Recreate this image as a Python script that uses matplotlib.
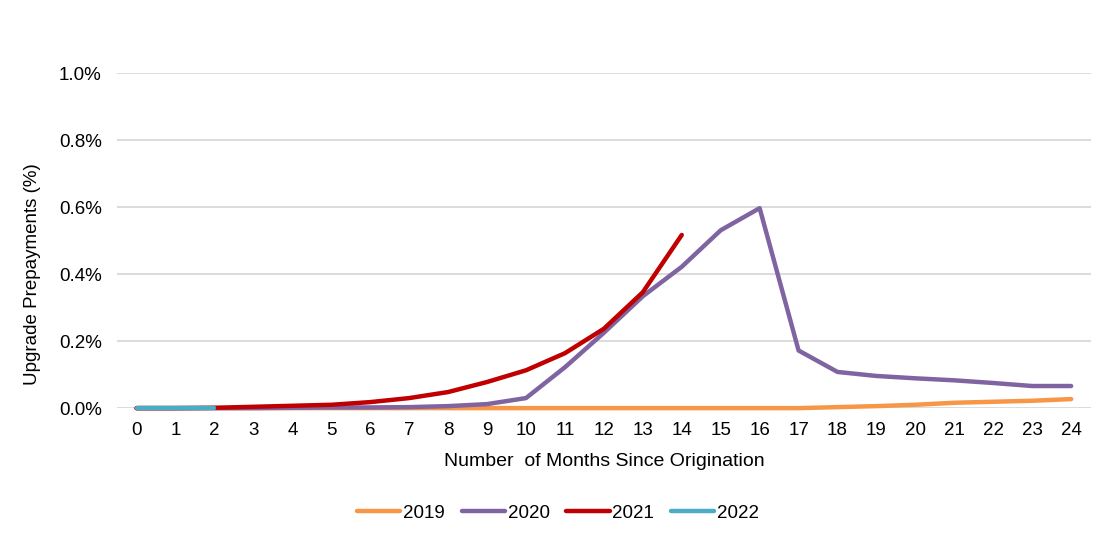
import matplotlib.pyplot as plt
from matplotlib.ticker import FuncFormatter

plt.rcParams['font.family'] = ['Liberation Sans', 'DejaVu Sans']

months = list(range(25))

# upgrade prepayments in percent
y2019 = [0, 0, 0, 0, 0, 0, 0, 0, 0, 0, 0, 0, 0, 0, 0, 0, 0, 0,
         0.003, 0.006, 0.010, 0.016, 0.019, 0.022, 0.027]
y2020 = [0, 0, 0, 0, 0.001, 0.002, 0.002, 0.003, 0.006, 0.012, 0.030, 0.122,
         0.225, 0.334, 0.422, 0.531, 0.597, 0.172, 0.108, 0.096, 0.089,
         0.083, 0.075, 0.066, 0.066]
y2021 = [0, 0, 0.001, 0.004, 0.007, 0.010, 0.018, 0.030, 0.048, 0.078,
         0.113, 0.164, 0.237, 0.346, 0.517]
y2022 = [0, 0, 0]

series = [
    ('2019', y2019, '#F79646'),
    ('2020', y2020, '#8064A2'),
    ('2021', y2021, '#C00000'),
    ('2022', y2022, '#4BACC6'),
]

fig = plt.figure(figsize=(11.05, 5.42), dpi=100)
ax = fig.add_axes([0.106, 0.247, 0.881, 0.618])

for name, vals, col in series:
    ax.plot(months[:len(vals)], vals, color=col, linewidth=3.2, clip_on=False,
            solid_capstyle='round', solid_joinstyle='round', label=name)

ax.set_xlim(-0.5, 24.5)
ax.set_ylim(0, 1.0)
ax.set_yticks([0, 0.2, 0.4, 0.6, 0.8, 1.0])
ax.yaxis.set_major_formatter(FuncFormatter(lambda v, p: f'{v:.1f}%'))
ax.set_xticks(months)
ax.grid(axis='y', color='#D9D9D9', linewidth=1.3)
ax.set_axisbelow(True)
for s in ax.spines.values():
    s.set_visible(False)
ax.tick_params(length=0, labelsize=13.5, colors='black')
ax.tick_params(axis='y', pad=11)
ax.tick_params(axis='x', pad=10)

ax.set_xlabel('Number  of Months Since Origination', fontsize=14, labelpad=10)
ax.set_ylabel('Upgrade Prepayments (%)', fontsize=13.5)
ax.yaxis.set_label_coords(-0.078, 0.4)

# legend is centred on the whole figure, not the plot area
fig.legend(loc='upper center', bbox_to_anchor=(0.505, 0.1), ncol=4, frameon=False,
           fontsize=13.5, handlelength=2.3, handletextpad=0.15, columnspacing=0.9)

fig.savefig('out.png', dpi=100)
